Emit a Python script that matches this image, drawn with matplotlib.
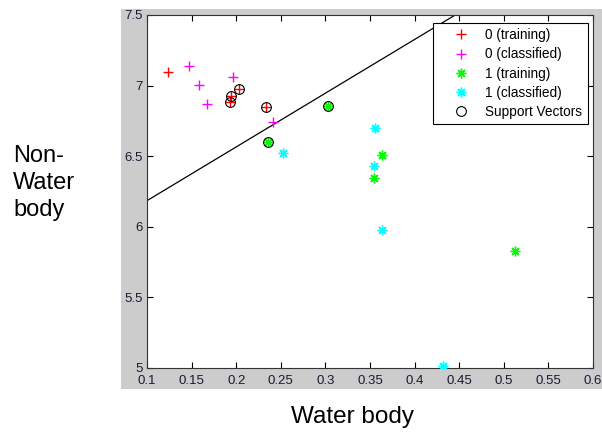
import numpy as np
import matplotlib
matplotlib.use("Agg")
import matplotlib.pyplot as plt
from matplotlib.patches import Rectangle

# data
train0_x = [0.123, 0.193, 0.194, 0.203, 0.233]
train0_y = [7.096, 6.882, 6.926, 6.974, 6.846]

class0_x = [0.147, 0.158, 0.167, 0.196, 0.241]
class0_y = [7.139, 7.006, 6.872, 7.063, 6.742]

train1_x = [0.303, 0.236, 0.364, 0.354, 0.512]
train1_y = [6.853, 6.598, 6.506, 6.343, 5.829]

class1_x = [0.252, 0.356, 0.354, 0.364, 0.432]
class1_y = [6.525, 6.702, 6.431, 5.975, 5.016]

sv_x = [0.193, 0.194, 0.203, 0.233, 0.303, 0.236]
sv_y = [6.882, 6.926, 6.974, 6.846, 6.853, 6.598]

line_x = [0.1, 0.4455]
line_y = [6.185, 7.5]

x_ticks = [0.1, 0.15, 0.2, 0.25, 0.3, 0.35, 0.4, 0.45, 0.5, 0.55, 0.6]
x_labels = ["0.1", "0.15", "0.2", "0.25", "0.3", "0.35", "0.4", "0.45", "0.5", "0.55", "0.6"]
y_ticks = [5, 5.5, 6, 6.5, 7, 7.5]
y_labels = ["5", "5.5", "6", "6.5", "7", "7.5"]

plt.rcParams['font.family'] = ['Liberation Sans', 'DejaVu Sans']

fig = plt.figure(figsize=(6.02, 4.33), dpi=100)
fig.patch.set_facecolor('white')

# grey matlab figure background
fig.patches.append(Rectangle((121 / 602, 44 / 433), 481 / 602, 380 / 433,
                             transform=fig.transFigure, facecolor='#cccccc',
                             edgecolor='none', zorder=-5))

ax = fig.add_axes([147 / 602, 65 / 433, 446 / 602, 353 / 433])
ax.set_facecolor('white')

ax.plot(line_x, line_y, color='black', linewidth=0.9, zorder=2)

ms = 7
asterisk = (8, 2, 0)
ax.plot(train0_x, train0_y, '+', color='#ff0000', markersize=ms, mew=1.0,
        linestyle='none', label='0 (training)', zorder=3)
ax.plot(class0_x, class0_y, '+', color='#ff00ff', markersize=ms, mew=1.0,
        linestyle='none', label='0 (classified)', zorder=3)
ax.plot(train1_x, train1_y, marker=asterisk, color='#00ff00', markersize=ms, mew=1.0,
        linestyle='none', label='1 (training)', zorder=3)
ax.plot(class1_x, class1_y, marker=asterisk, color='#00ffff', markersize=ms, mew=1.0,
        linestyle='none', label='1 (classified)', zorder=3)
ax.plot(sv_x, sv_y, 'o', markerfacecolor='none', markeredgecolor='black',
        markersize=ms, mew=0.8, linestyle='none', label='Support Vectors', zorder=4)

ax.set_xlim(0.1, 0.6)
ax.set_ylim(5, 7.5)
ax.set_xticks(x_ticks, labels=x_labels)
ax.set_yticks(y_ticks, labels=y_labels)
ax.tick_params(direction='in', top=True, right=True, length=4, width=0.8,
               labelsize=9.5, labelcolor='#1a1a33')
ax.tick_params(axis='x', pad=5)
ax.tick_params(axis='y', pad=3)
for s in ax.spines.values():
    s.set_linewidth(0.8)
    s.set_color('#333333')

leg = ax.legend(loc='upper right', bbox_to_anchor=(0.988, 0.978), borderaxespad=0,
                fontsize=9.8, frameon=True, fancybox=False, framealpha=1,
                edgecolor='black', handlelength=3.2, handletextpad=0.2,
                labelspacing=0.38, borderpad=0.4)
leg.get_frame().set_linewidth(0.8)
leg.set_zorder(5)

fig.text(13 / 602, 1 - 145 / 433, "Non-\nWater\nbody", fontsize=17,
         ha='left', va='top', linespacing=1.3)
fig.text(352 / 602, 1 - 417 / 433, "Water body", fontsize=17.5,
         ha='center', va='center')

fig.savefig("out.png", dpi=100)
